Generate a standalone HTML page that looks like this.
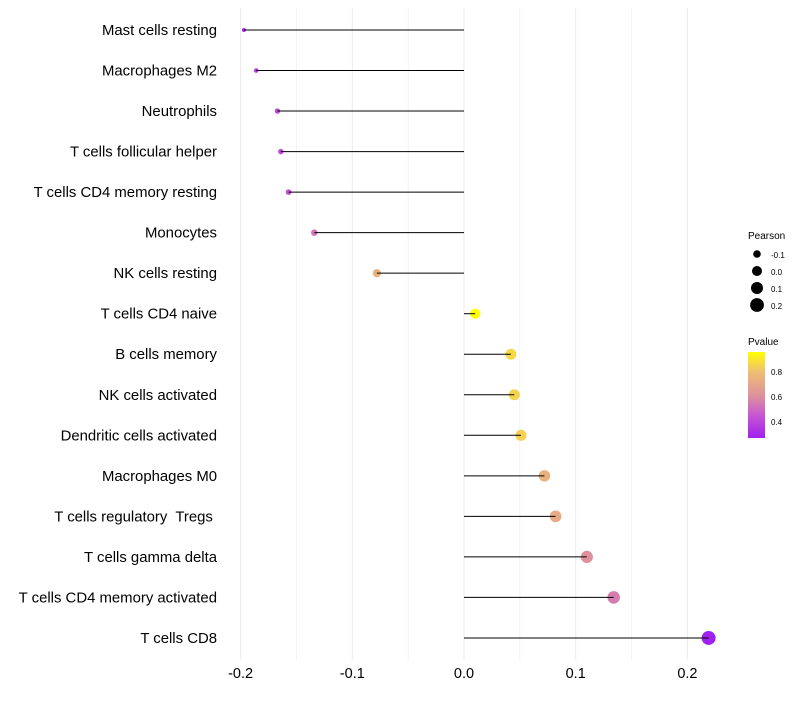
<!DOCTYPE html>
<html><head><meta charset="utf-8"><style>
body{margin:0;background:#fff;font-family:"Liberation Sans",sans-serif}
svg text{font-family:"Liberation Sans",sans-serif}
#ylab text{white-space:pre}
</style></head><body>
<svg id="c" width="800" height="700" xmlns="http://www.w3.org/2000/svg">
<defs><linearGradient id="pg" x1="0" y1="1" x2="0" y2="0">
<stop offset="0" stop-color="#a020f0"/><stop offset="0.27" stop-color="#c858d0"/><stop offset="0.48" stop-color="#dc8fa0"/><stop offset="0.78" stop-color="#f0c070"/><stop offset="1" stop-color="#ffff00"/></linearGradient></defs>
<g id="grid"></g><g id="marks"></g><g id="ylab"></g><g id="xlab"></g>
<g>
<text x="748" y="239" font-size="10" fill="#000">Pearson</text>
<circle cx="757" cy="254" r="3.8"/><text x="771" y="258" font-size="8">-0.1</text>
<circle cx="757" cy="271" r="5"/><text x="771" y="275" font-size="8">0.0</text>
<circle cx="757" cy="288" r="6"/><text x="771" y="292" font-size="8">0.1</text>
<circle cx="757" cy="305" r="6.9"/><text x="771" y="309" font-size="8">0.2</text>
</g>
<g>
<text x="748" y="345" font-size="10">Pvalue</text>
<rect x="748" y="352" width="17" height="86" fill="url(#pg)"/>
<text x="771" y="375" font-size="8">0.8</text>
<text x="771" y="400" font-size="8">0.6</text>
<text x="771" y="425" font-size="8">0.4</text>
</g>
</svg>
<script>
const categories=["Mast cells resting","Macrophages M2","Neutrophils","T cells follicular helper","T cells CD4 memory resting","Monocytes","NK cells resting","T cells CD4 naive","B cells memory","NK cells activated","Dendritic cells activated","Macrophages M0","T cells regulatory  Tregs ","T cells gamma delta","T cells CD4 memory activated","T cells CD8"];
const pearson=[-0.197,-0.186,-0.167,-0.164,-0.157,-0.134,-0.078,0.010,0.042,0.045,0.051,0.072,0.082,0.110,0.134,0.219];
const pvalue=[0.30,0.36,0.40,0.41,0.43,0.53,0.74,0.97,0.86,0.85,0.84,0.74,0.71,0.61,0.55,0.27];
const xTicks=[-0.2,-0.1,0.0,0.1,0.2];
const NS="http://www.w3.org/2000/svg";
const x=v=>464+v*1117;
const y=i=>30+i*40.53;
const rad=v=>Math.sqrt(Math.max(1,25.3+108*v));
function mix(a,b,t){const p=s=>[1,3,5].map(k=>parseInt(s.substr(k,2),16));const A=p(a),B=p(b);return "rgb("+A.map((c,i)=>Math.round(c+(B[i]-c)*t)).join(",")+")";}
const cs=[[0.27,"#a020f0"],[0.45,"#c858d0"],[0.60,"#dc8fa0"],[0.80,"#f0c070"],[0.96,"#ffff00"]];
function col(p){if(p<=cs[0][0])return cs[0][1];for(let i=1;i<cs.length;i++){if(p<=cs[i][0]){return mix(cs[i-1][1],cs[i][1],(p-cs[i-1][0])/(cs[i][0]-cs[i-1][0]));}}return cs[cs.length-1][1];}
function el(t,a,p){const e=document.createElementNS(NS,t);for(const k in a)e.setAttribute(k,a[k]);p.appendChild(e);return e;}
const grid=document.getElementById('grid'),marks=document.getElementById('marks'),yl=document.getElementById('ylab'),xl=document.getElementById('xlab');
for(let v=-0.2;v<=0.2001;v+=0.05){const g=el('line',{x1:x(v),x2:x(v),y1:8,y2:660,stroke:'#ebebeb','stroke-width':Math.abs(Math.round(v*20)%2)?0.6:1},grid);

}
xTicks.forEach(v=>{const t=el('text',{x:x(v),y:678,'font-size':14.5,'text-anchor':'middle',fill:'#000'},xl);t.textContent=v.toFixed(1);

});
categories.forEach((c,i)=>{
const t=el('text',{x:217,y:y(i)+5,'font-size':14.9,'text-anchor':'end',fill:'#000'},yl);t.textContent=c;


const pt=el('circle',{cx:x(pearson[i]),cy:y(i),r:rad(pearson[i]),fill:col(pvalue[i])},marks);


const ln=el('line',{x1:x(0),x2:x(pearson[i]),y1:y(i),y2:y(i),stroke:'#000','stroke-width':1},marks);


});
</script>
</body></html>
